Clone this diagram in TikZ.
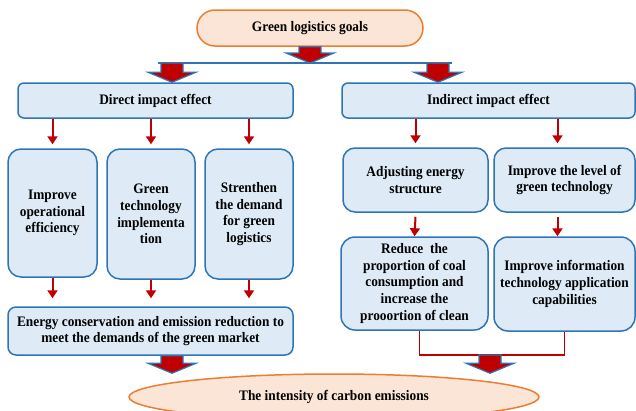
\documentclass[tikz,border=0pt]{standalone}
\usepackage{fontspec}
\setmainfont{Liberation Serif}[FakeStretch=0.92]
\usetikzlibrary{arrows.meta,calc,shapes.geometric}

\definecolor{boxfill}{HTML}{DEEBF7}
\definecolor{boxline}{HTML}{2E75B6}
\definecolor{goalfill}{HTML}{FBE5D6}
\definecolor{goalline}{HTML}{ED7D31}
\definecolor{darkred}{HTML}{C00000}

% thick red arrow with blue rim, from #1 down to #2
\newcommand\fatarrow[2]{%
  \draw[fat] let \p1=(#1), \p2=(#2) in
    (\x1-11pt,\y1) -- (\x1+11pt,\y1) -- (\x1+11pt,\y2+10pt) -- (\x1+24pt,\y2+10pt)
    -- (\x1,\y2) -- (\x1-24pt,\y2+10pt) -- (\x1-11pt,\y2+10pt) -- cycle;}

\begin{document}
\begin{tikzpicture}[x=1pt, y=-1pt,
    every node/.style = {font=\fontsize{14.5pt}{16.7pt}\selectfont\bfseries, align=center, inner sep=0pt},
    goal/.style = {draw=goalline, fill=goalfill, line width=1.5pt},
    wide/.style = {draw=boxline, fill=boxfill, line width=1.5pt, rounded corners=6pt},
    tall/.style = {draw=boxline, fill=boxfill, line width=1.5pt, rounded corners=13pt},
    redarrow/.style = {draw=darkred, line width=2pt, -{Triangle[width=10pt,length=8pt]}},
    redline/.style = {draw=darkred, line width=1.5pt},
    bus/.style = {draw=boxline, line width=2pt},
    fat/.style = {draw=boxline, fill=darkred, line width=1.2pt, line join=miter}]
  \clip (0,0) rectangle (636,410);
    %
  \node[goal, rounded corners=18pt, minimum width=226pt, minimum height=36pt] (top) at (310,28) {Green logistics goals};
  \node[wide, minimum width=275pt, minimum height=35pt] (direct) at (155.5,100.5) {Direct impact effect};
  \node[wide, minimum width=293pt, minimum height=35pt] (indirect) at (488.5,100.5) {Indirect impact effect};
    %
  \node[tall, minimum width=89pt, minimum height=128pt] (oper) at (52.5,213) {Improve\\operational\\efficiency};
  \node[tall, minimum width=88pt, minimum height=130pt] (tech) at (151,214) {Green\\technology\\implementa\\tion};
  \node[tall, minimum width=88pt, minimum height=130pt] (demand) at (249,214) {Strenthen\\the demand\\for green\\logistics};
  \node[wide, rounded corners=12pt, minimum width=145pt, minimum height=64pt] (adjust) at (415.5,180) {Adjusting energy\\structure};
  \node[wide, rounded corners=12pt, minimum width=141pt, minimum height=64pt] (level) at (564.5,180) {Improve the level of\\green technology};
  \node[wide, rounded corners=14pt, minimum width=147pt, minimum height=93pt] (coal) at (414.5,283.5) {Reduce~ the\\proportion of coal\\consumption and\\increase the\\prooortion of clean};
  \node[wide, rounded corners=14pt, minimum width=141pt, minimum height=94pt] (info) at (564.5,284) {Improve information\\technology application\\capabilities};
  \node[wide, rounded corners=8pt, minimum width=285pt, minimum height=48pt] (energy) at (150.5,331) {Energy conservation and emission reduction to\\meet the demands of the green market};
  \node[goal, ellipse, minimum width=410pt, minimum height=46pt] (carbon) at (334,397) {The intensity of carbon emissions};
    %
  \coordinate (busL) at (172,63);
  \coordinate (busR) at (438,63);
  \coordinate (join) at (490,355);
  \draw[bus] ([xshift=-14pt]busL) -- ([xshift=14pt]busR);
    %
  \draw[redarrow] (oper.north |- direct.south) -- ([yshift=4pt]oper.north);
  \draw[redarrow] (tech.north |- direct.south) -- ([yshift=4pt]tech.north);
  \draw[redarrow] (demand.north |- direct.south) -- ([yshift=4pt]demand.north);
  \draw[redarrow] (oper.south) -- ([yshift=8pt]energy.north -| oper.south);
  \draw[redarrow] (tech.south) -- ([yshift=8pt]energy.north -| tech.south);
  \draw[redarrow] (demand.south) -- ([yshift=8pt]energy.north -| demand.south);
  \draw[redarrow] (adjust.north |- indirect.south) -- ([yshift=4pt]adjust.north);
  \draw[redarrow] ([xshift=-7pt]level.north |- indirect.south) -- ([xshift=-7pt,yshift=4pt]level.north);
  \draw[redarrow] ([yshift=-4pt]adjust.south) -- (coal.north);
  \draw[redarrow] ([xshift=-7pt,yshift=-4pt]level.south) -- ([xshift=-7pt]info.north);
  \draw[redline] ([xshift=5pt]coal.south) |- (join) -| (info.south);
    %
  \fatarrow{top.south}{top.south |- busL}
  \fatarrow{busL}{busL |- direct.north}
  \fatarrow{busR}{busR |- direct.north}
  \fatarrow{energy.south -| busL}{busL |- carbon.north}
  \fatarrow{join}{join |- carbon.north}
\end{tikzpicture}
\end{document}
